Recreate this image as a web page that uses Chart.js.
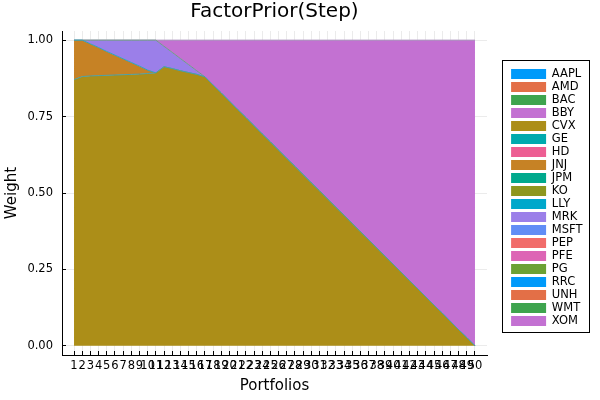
<!DOCTYPE html>
<html>
<head>
<meta charset="utf-8">
<script src="https://cdn.jsdelivr.net/npm/chart.js@4.4.1/dist/chart.umd.min.js"></script>
<style>
  html, body { margin: 0; padding: 0; background: #fff; }
</style>
</head>
<body>
<canvas id="chartW" width="600" height="400"></canvas>
<script>
// ── Pesos por cartera: áreas apiladas (FactorPrior(Step)) ──
/* global Chart */

const portfolios = [1, 2, 3, 4, 5, 6, 7, 8, 9, 10, 11, 12, 13, 14, 15, 16, 17, 18, 19, 20,
  21, 22, 23, 24, 25, 26, 27, 28, 29, 30, 31, 32, 33, 34, 35, 36, 37, 38, 39, 40,
  41, 42, 43, 44, 45, 46, 47, 48, 49, 50];
const xTicks = [1, 2, 3, 4, 5, 6, 7, 8, 9, 10, 11, 12, 13, 14, 15, 16, 17, 18, 19, 20,
  21, 22, 23, 24, 25, 26, 27, 28, 29, 30, 31, 32, 33, 34, 35, 36, 37, 38, 39, 40,
  41, 42, 43, 44, 45, 46, 47, 48, 49, 50];
const yTicks = [0, 0.25, 0.5, 0.75, 1];

const tickers = ['AAPL', 'AMD', 'BAC', 'BBY', 'CVX', 'GE', 'HD', 'JNJ', 'JPM', 'KO',
  'LLY', 'MRK', 'MSFT', 'PEP', 'PFE', 'PG', 'RRC', 'UNH', 'WMT', 'XOM'];

// Pesos (una lista por activo, 50 carteras)
const wAAPL = [0,0,0,0,0,0,0,0,0,0,0,0,0,0,0,0,0,0,0,0,0,0,0,0,0,0,0,0,0,0,0,0,0,0,0,0,0,0,0,0,0,0,0,0,0,0,0,0,0,0];
const wAMD  = [0,0,0,0,0,0,0,0,0,0,0,0,0,0,0,0,0,0,0,0,0,0,0,0,0,0,0,0,0,0,0,0,0,0,0,0,0,0,0,0,0,0,0,0,0,0,0,0,0,0];
const wBAC  = [0,0,0,0,0,0,0,0,0,0,0,0,0,0,0,0,0,0,0,0,0,0,0,0,0,0,0,0,0,0,0,0,0,0,0,0,0,0,0,0,0,0,0,0,0,0,0,0,0,0];
const wBBY  = [0,0,0,0,0,0,0,0,0,0,0,0,0,0,0,0,0,0,0,0,0,0,0,0,0,0,0,0,0,0,0,0,0,0,0,0,0,0,0,0,0,0,0,0,0,0,0,0,0,0];
const wCVX  = [0.871, 0.881, 0.883, 0.884, 0.885, 0.886, 0.887, 0.888, 0.889, 0.891,
  0.893, 0.913, 0.907, 0.900, 0.894, 0.888, 0.880, 0.853, 0.827, 0.800,
  0.773, 0.747, 0.720, 0.693, 0.667, 0.640, 0.613, 0.587, 0.560, 0.533,
  0.507, 0.480, 0.453, 0.427, 0.400, 0.373, 0.347, 0.320, 0.293, 0.267,
  0.240, 0.213, 0.187, 0.160, 0.133, 0.107, 0.080, 0.053, 0.027, 0];
const wGE   = [0,0,0,0,0,0,0,0,0,0,0,0,0,0,0,0,0,0,0,0,0,0,0,0,0,0,0,0,0,0,0,0,0,0,0,0,0,0,0,0,0,0,0,0,0,0,0,0,0,0];
const wHD   = [0,0,0,0,0,0,0,0,0,0,0,0,0,0,0,0,0,0,0,0,0,0,0,0,0,0,0,0,0,0,0,0,0,0,0,0,0,0,0,0,0,0,0,0,0,0,0,0,0,0];
const wJNJ  = [0.129, 0.119, 0.105, 0.092, 0.078, 0.065, 0.052, 0.039, 0.026, 0.011,
  0,0,0,0,0,0,0,0,0,0,0,0,0,0,0,0,0,0,0,0,0,0,0,0,0,0,0,0,0,0,0,0,0,0,0,0,0,0,0,0];
const wJPM  = [0,0,0,0,0,0,0,0,0,0,0,0,0,0,0,0,0,0,0,0,0,0,0,0,0,0,0,0,0,0,0,0,0,0,0,0,0,0,0,0,0,0,0,0,0,0,0,0,0,0];
const wKO   = [0,0,0,0,0,0,0,0,0,0,0,0,0,0,0,0,0,0,0,0,0,0,0,0,0,0,0,0,0,0,0,0,0,0,0,0,0,0,0,0,0,0,0,0,0,0,0,0,0,0];
const wLLY  = [0,0,0,0,0,0,0,0,0,0,0,0,0,0,0,0,0,0,0,0,0,0,0,0,0,0,0,0,0,0,0,0,0,0,0,0,0,0,0,0,0,0,0,0,0,0,0,0,0,0];
const wMRK  = [0, 0, 0.012, 0.024, 0.037, 0.049, 0.061, 0.073, 0.085, 0.098,
  0.107, 0.067, 0.053, 0.040, 0.026, 0.012,
  0,0,0,0,0,0,0,0,0,0,0,0,0,0,0,0,0,0,0,0,0,0,0,0,0,0,0,0,0,0,0,0,0,0];
const wMSFT = [0,0,0,0,0,0,0,0,0,0,0,0,0,0,0,0,0,0,0,0,0,0,0,0,0,0,0,0,0,0,0,0,0,0,0,0,0,0,0,0,0,0,0,0,0,0,0,0,0,0];
const wPEP  = [0,0,0,0,0,0,0,0,0,0,0,0,0,0,0,0,0,0,0,0,0,0,0,0,0,0,0,0,0,0,0,0,0,0,0,0,0,0,0,0,0,0,0,0,0,0,0,0,0,0];
const wPFE  = [0,0,0,0,0,0,0,0,0,0,0,0,0,0,0,0,0,0,0,0,0,0,0,0,0,0,0,0,0,0,0,0,0,0,0,0,0,0,0,0,0,0,0,0,0,0,0,0,0,0];
const wPG   = [0,0,0,0,0,0,0,0,0,0,0,0,0,0,0,0,0,0,0,0,0,0,0,0,0,0,0,0,0,0,0,0,0,0,0,0,0,0,0,0,0,0,0,0,0,0,0,0,0,0];
const wRRC  = [0,0,0,0,0,0,0,0,0,0,0,0,0,0,0,0,0,0,0,0,0,0,0,0,0,0,0,0,0,0,0,0,0,0,0,0,0,0,0,0,0,0,0,0,0,0,0,0,0,0];
const wUNH  = [0,0,0,0,0,0,0,0,0,0,0,0,0,0,0,0,0,0,0,0,0,0,0,0,0,0,0,0,0,0,0,0,0,0,0,0,0,0,0,0,0,0,0,0,0,0,0,0,0,0];
const wWMT  = [0,0,0,0,0,0,0,0,0,0,0,0,0,0,0,0,0,0,0,0,0,0,0,0,0,0,0,0,0,0,0,0,0,0,0,0,0,0,0,0,0,0,0,0,0,0,0,0,0,0];
const wXOM  = [0,0,0,0,0,0,0,0,0,0,0, 0.020, 0.040, 0.060, 0.080, 0.100, 0.120, 0.147, 0.173, 0.200,
  0.227, 0.253, 0.280, 0.307, 0.333, 0.360, 0.387, 0.413, 0.440, 0.467,
  0.493, 0.520, 0.547, 0.573, 0.600, 0.627, 0.653, 0.680, 0.707, 0.733,
  0.760, 0.787, 0.813, 0.840, 0.867, 0.893, 0.920, 0.947, 0.973, 1.000];

const weights = [wAAPL, wAMD, wBAC, wBBY, wCVX, wGE, wHD, wJNJ, wJPM, wKO,
  wLLY, wMRK, wMSFT, wPEP, wPFE, wPG, wRRC, wUNH, wWMT, wXOM];

// Paleta por defecto de Plots.jl (se repite tras 16 colores)
const palette = ['#009AFA', '#E36F47', '#3EA44E', '#C371D2', '#AC8E18', '#00AAAE', '#ED5E93', '#C68225',
  '#00A98D', '#8E971E', '#00A8CB', '#9B7FE9', '#618DF6', '#F16C6A', '#DD65B5', '#6CA134',
  '#009AFA', '#E36F47', '#3EA44E', '#C371D2'];

// Color del borde superior de cada área (en Plots se ve la línea de la última serie nula encima)
const edgeColors = { CVX: '#4A9FA6', JNJ: '#2AA3C0', MRK: '#6E9A86', XOM: '#A48BB8' };

Chart.defaults.font.family = '"DejaVu Sans", sans-serif';

const datasets = tickers.map((name, i) => ({
  label: name,
  data: weights[i].map((w, k) => ({ x: portfolios[k], y: w })),
  backgroundColor: palette[i],
  borderColor: edgeColors[name] || palette[i],
  borderWidth: weights[i].some(w => w > 0) ? 1 : 0,
  pointRadius: 0,
  tension: 0,
  fill: i === 0 ? 'origin' : '-1',
}));

// Marcas de eje hacia dentro, como en Plots
const innerTicks = {
  id: 'innerTicks',
  afterDraw(chart) {
    const { ctx, chartArea: a, scales } = chart;
    const align = p => Math.round(p - 0.5) + 0.5;
    ctx.save();
    ctx.strokeStyle = '#000';
    ctx.lineWidth = 1;
    ctx.beginPath();
    scales.x.ticks.forEach(t => {
      const px = align(scales.x.getPixelForValue(t.value));
      ctx.moveTo(px, a.bottom);
      ctx.lineTo(px, a.bottom - 4);
    });
    scales.y.ticks.forEach(t => {
      const py = align(scales.y.getPixelForValue(t.value));
      ctx.moveTo(a.left, py);
      ctx.lineTo(a.left + 4, py);
    });
    ctx.stroke();
    ctx.restore();
  },
};

// Marco alrededor de la leyenda
const legendFrame = {
  id: 'legendFrame',
  afterDraw(chart) {
    const boxes = chart.legend.legendHitBoxes;
    if (!boxes || !boxes.length) return;
    const first = boxes[0];
    const last = boxes[boxes.length - 1];
    const x0 = Math.round(first.left - 9) + 0.5;
    const y0 = Math.round(first.top - 8) + 0.5;
    const x1 = Math.round(first.left + 78) + 0.5;
    const y1 = Math.round(last.top + last.height + 5) + 0.5;
    const ctx = chart.ctx;
    ctx.save();
    ctx.strokeStyle = '#000';
    ctx.lineWidth = 1;
    ctx.strokeRect(x0, y0, x1 - x0, y1 - y0);
    ctx.restore();
  },
};

const gridColor = 'rgba(0,0,0,0.08)';

new Chart(document.getElementById('chartW').getContext('2d'), {
  type: 'line',
  data: { datasets },
  plugins: [innerTicks, legendFrame],
  options: {
    responsive: false,
    animation: false,
    layout: { padding: { top: 0, right: 7.5, bottom: 5, left: 0 } },
    plugins: {
      title: {
        display: true,
        text: 'FactorPrior(Step)',
        fullSize: false,
        color: '#000',
        font: { size: 20, weight: 'normal' },
        padding: { top: 0, bottom: 7 },
      },
      legend: {
        position: 'right',
        align: 'center',
        labels: {
          boxWidth: 35,
          boxHeight: 10,
          padding: 1.5,
          color: '#000',
          font: { size: 11.5 },
          generateLabels(chart) {
            const items = Chart.defaults.plugins.legend.labels.generateLabels(chart);
            items.forEach(it => { it.lineWidth = 0; });
            return items;
          },
        },
      },
      tooltip: { enabled: false },
    },
    scales: {
      x: {
        type: 'linear',
        min: -0.47,
        max: 51.47,
        afterBuildTicks: s => { s.ticks = xTicks.map(v => ({ value: v })); },
        afterFit: s => { s.height = 40; },
        ticks: {
          autoSkip: false, maxRotation: 0, minRotation: 0, padding: 4,
          color: '#000', font: { size: 11.5 }, callback: v => String(v),
        },
        grid: { color: gridColor, drawTicks: false },
        border: { display: true, color: '#000', width: 1 },
        title: { display: true, text: 'Portfolios', color: '#000', font: { size: 15 }, padding: { top: 0, bottom: 0 } },
      },
      y: {
        stacked: true,
        min: -0.03,
        max: 1.03,
        afterBuildTicks: s => { s.ticks = yTicks.map(v => ({ value: v })); },
        afterFit: s => { s.width = 62; },
        ticks: { padding: 9, color: '#000', font: { size: 11.5 }, callback: v => v.toFixed(2) },
        grid: { color: gridColor, drawTicks: false },
        border: { display: true, color: '#000', width: 1 },
        title: { display: true, text: 'Weight', color: '#000', font: { size: 15 }, padding: { top: 3, bottom: 0 } },
      },
      // eje vacío a la derecha: deja el hueco entre el área y la leyenda
      yR: {
        type: 'linear',
        position: 'right',
        display: true,
        grid: { display: false },
        ticks: { display: false },
        border: { display: false },
        afterFit: s => { s.width = Math.max(0, 600 - 7.5 - s.chart.legend.width - 487); },
      },
    },
  },
});
</script>
</body>
</html>
